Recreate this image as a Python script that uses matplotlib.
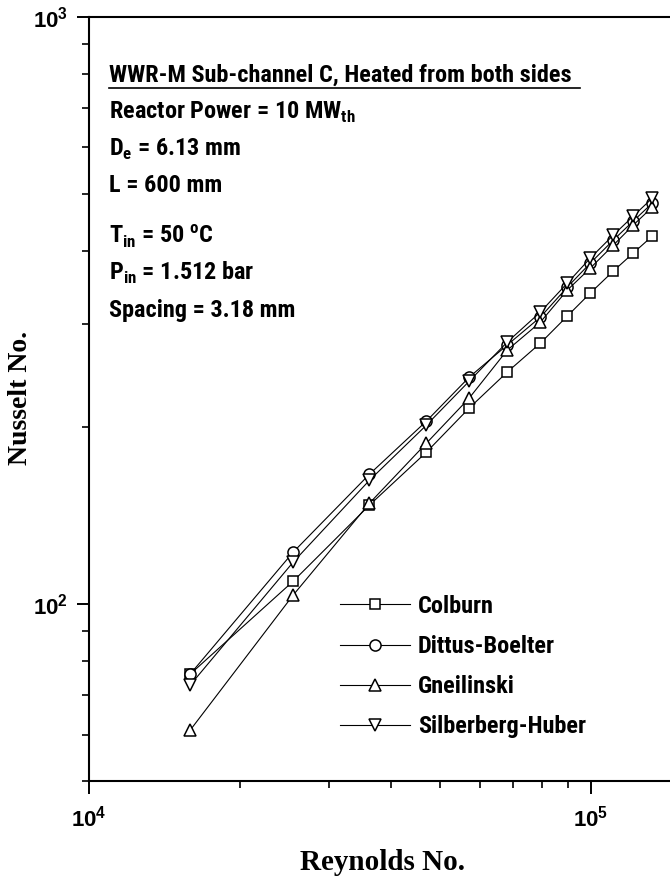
import matplotlib
matplotlib.use('Agg')
import matplotlib.pyplot as plt
from matplotlib.lines import Line2D
from matplotlib import font_manager

# Reynolds numbers of the 12 operating points
reynolds = [15900, 25500, 36200, 47000, 57200, 68100, 79300, 89700, 99700, 110800, 121400, 132500]

# Nusselt numbers
nu_colburn = [76.0, 109.4, 147.5, 181.5, 215.8, 248.5, 278.4, 309.5, 338.8, 369.3, 396.3, 423.6]
nu_dittus = [76.0, 122.6, 166.5, 205.0, 243.6, 276.3, 308.3, 346.7, 381.0, 417.0, 449.3, 482.1]
nu_gneilinski = [61.0, 103.6, 148.6, 188.0, 224.4, 270.8, 302.3, 342.7, 373.6, 408.8, 442.2, 474.6]
nu_silberberg = [72.8, 117.9, 162.6, 201.8, 239.8, 279.5, 314.5, 352.2, 388.6, 425.3, 458.1, 491.7]

series = [
    ('Colburn', nu_colburn, 's', 7.5),
    ('Dittus-Boelter', nu_dittus, 'o', 8),
    ('Gneilinski', nu_gneilinski, '^', 9),
    ('Silberberg-Huber', nu_silberberg, 'v', 9),
]

header = 'WWR-M Sub-channel C, Heated from both sides'
info_lines = [
    'Reactor Power = 10 MW$_\\mathdefault{th}$',
    'D$_\\mathdefault{e}$ = 6.13 mm',
    'L = 600 mm',
    'T$_\\mathdefault{in}$ = 50 $^\\mathdefault{o}$C',
    'P$_\\mathdefault{in}$ = 1.512 bar',
    'Spacing = 3.18 mm',
]
info_y = [112, 149, 186, 236, 273, 311]  # pixel rows of the info text

# pick a narrow font if one is around, otherwise plain Liberation Sans a bit smaller
installed = {f.name for f in font_manager.fontManager.ttflist}
narrow_size = 15
narrow = ['Liberation Sans', 'DejaVu Sans']
for name, size in [('Roboto Condensed', 17.5), ('Liberation Sans Narrow', 17),
                   ('Archivo Narrow', 17), ('PT Sans Narrow', 17)]:
    if name in installed:
        narrow = [name, 'DejaVu Sans']
        narrow_size = size
        break

W, H = 670, 888
fig = plt.figure(figsize=(W / 100, H / 100), dpi=100)
ax = fig.add_axes([89 / W, (H - 781) / H, (W - 89) / W, (781 - 17) / H])

for label, vals, mk, ms in series:
    ax.plot(reynolds, vals, color='black', lw=0.8, marker=mk, ms=ms,
            mfc='white', mec='black', mew=1.1, label=label)

ax.set_xscale('log')
ax.set_yscale('log')
ax.set_xlim(1e4, 10 ** (4 + 581 / 502))
ax.set_ylim(50, 1000)

ax.spines['right'].set_visible(False)
for s in ['left', 'bottom', 'top']:
    ax.spines[s].set_linewidth(1.5)

ax.tick_params(which='major', direction='out', length=9, width=1.4, pad=6,
               labelsize=16, top=False, right=False)
ax.tick_params(axis='x', which='major', pad=9)
ax.tick_params(which='minor', direction='out', length=5, width=1.2,
               top=False, right=False)
for t in ax.get_xticklabels() + ax.get_yticklabels():
    t.set_family(['Liberation Sans', 'DejaVu Sans'])
    t.set_fontweight('bold')

serif = ['Liberation Serif', 'DejaVu Serif']
fig.text(383 / W, 1 - 862 / H, 'Reynolds No.', family=serif, fontsize=21,
         fontweight='bold', ha='center', va='center')
fig.text(21 / W, 1 - 398 / H, 'Nusselt No.', family=serif, fontsize=20,
         fontweight='bold', ha='center', va='center', rotation=90)

# header text with underline
fig.text(109 / W, 1 - 75 / H, header, family=narrow, fontsize=narrow_size,
         fontweight='bold', va='center', ha='left')
fig.add_artist(Line2D([109 / W, 580 / W], [1 - 88 / H, 1 - 88 / H],
                      color='black', lw=1.2))
for txt, yy in zip(info_lines, info_y):
    fig.text(109 / W, 1 - yy / H, txt, family=narrow, fontsize=narrow_size,
             fontweight='bold', va='center', ha='left')

leg = ax.legend(loc='upper left', bbox_to_anchor=(340 / W, 1 - 595 / H),
                bbox_transform=fig.transFigure, frameon=False,
                prop={'family': narrow, 'size': narrow_size, 'weight': 'bold'},
                handlelength=2.9, handletextpad=0.3, labelspacing=0.7,
                borderpad=0, borderaxespad=0)

fig.savefig('out.png', dpi=100)
